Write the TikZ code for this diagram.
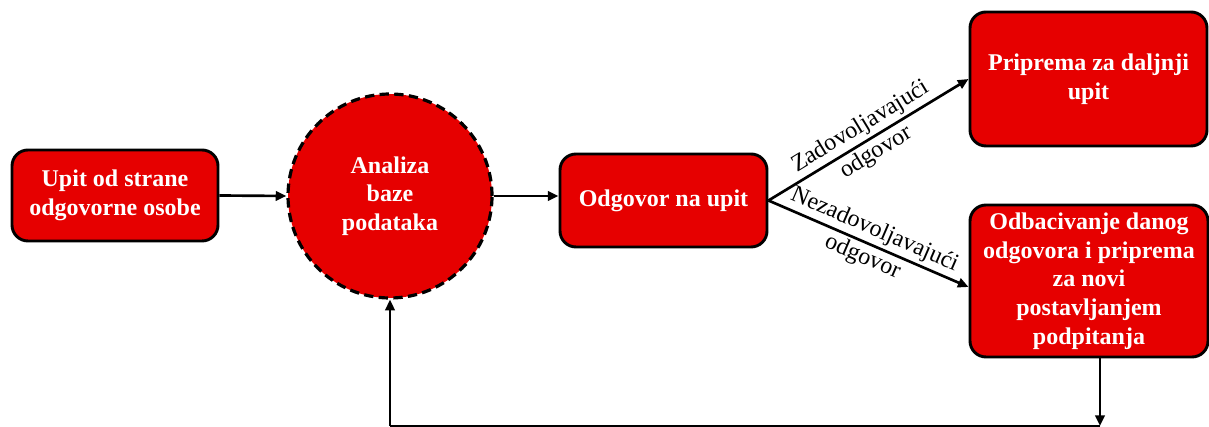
\documentclass[tikz,border=0pt]{standalone}
\usepackage{fontspec}
\setmainfont{Liberation Serif}
\usetikzlibrary{arrows.meta}
\definecolor{boxred}{RGB}{230,0,0}
\tikzset{
  box/.style={draw=black, line width=2.2pt, fill=boxred, rounded corners=12pt, inner sep=0pt,
    align=center, text=white, font=\fontsize{18}{21.5}\selectfont\bfseries},
  circ/.style={draw=black, line width=2.4pt, dash pattern=on 7pt off 4pt, fill=boxred, circle, inner sep=0pt,
    align=center, text=white, font=\fontsize{18}{21.5}\selectfont\bfseries},
  conn/.style={line width=2pt, -{Triangle[length=8pt,width=7pt]}},
  lbl/.style={font=\fontsize{18}{22.5}\selectfont, align=center, sloped, midway, inner sep=0pt}
}
\begin{document}
\begin{tikzpicture}[x=0.75pt,y=-0.75pt]
\useasboundingbox (0,0) rectangle (1209,427);
\node[box, minimum width=206*0.75pt, minimum height=91*0.75pt] (upit) at (115,195.5) {Upit od strane\\odgovorne osobe};
\node[circ, minimum size=204*0.75pt] (anal) at (390,196) {Analiza\\baze\\podataka};
\node[box, minimum width=207*0.75pt, minimum height=93*0.75pt] (odg) at (663.5,200.5) {Odgovor na upit};
\node[box, minimum width=237*0.75pt, minimum height=134*0.75pt] (prip) at (1088.5,79) {Priprema za daljnji\\upit};
\node[box, minimum width=238*0.75pt, minimum height=152*0.75pt] (odb) at (1089,281) {Odbacivanje danog\\odgovora i priprema\\za novi\\postavljanjem\\podpitanja};
\coordinate (c1) at (1100,426);
\coordinate (c2) at (390,426);
\draw[conn] (upit.east) -- (anal.west);
\draw[conn] (anal.east) -- (anal.east -| odg.west);
\draw[conn] (odg.east) -- node[lbl] {Zadovoljavajući\\odgovor} (prip.west);
\draw[conn] (odg.east) -- node[lbl] {Nezadovoljavajući\\odgovor} ([yshift=-4.5pt]odb.west);
\draw[conn] (odb.south -| c1) -- (c1);
\draw[line width=1.6pt] (c1) -- (c2);
\draw[conn] (c2) -- (anal.south);
\end{tikzpicture}
\end{document}
